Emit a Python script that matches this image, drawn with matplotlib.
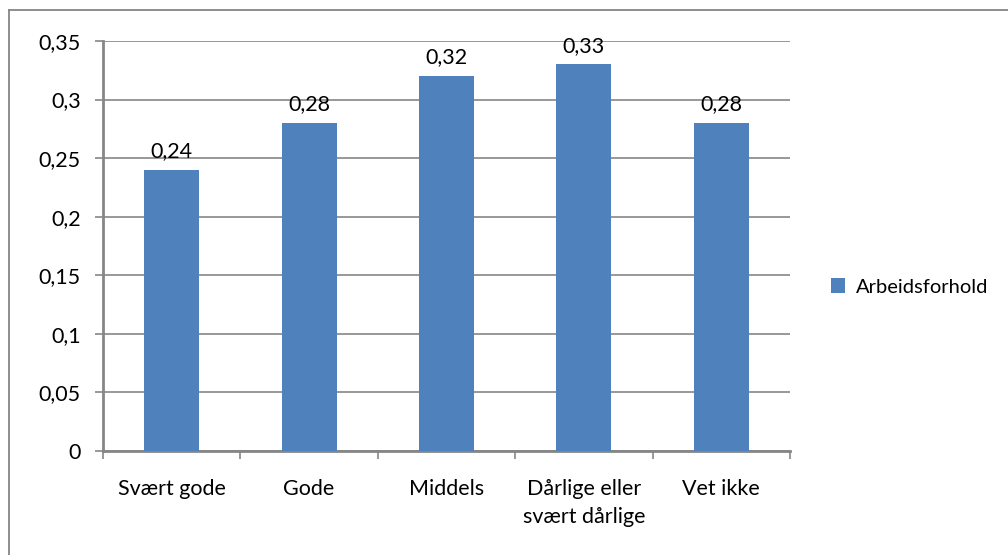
import matplotlib.pyplot as plt
from matplotlib.lines import Line2D

categories = ["Svært gode", "Gode", "Middels", "Dårlige eller\nsvært dårlige", "Vet ikke"]
values = [0.24, 0.28, 0.32, 0.33, 0.28]
labels = ["0,24", "0,28", "0,32", "0,33", "0,28"]
yticks = [0, 0.05, 0.1, 0.15, 0.2, 0.25, 0.3, 0.35]
ytick_labels = ["0", "0,05", "0,1", "0,15", "0,2", "0,25", "0,3", "0,35"]
series_name = "Arbeidsforhold"

plt.rcParams['font.family'] = ['Lato', 'DejaVu Sans']
blue = "#4F81BD"
grey = "#868686"
fs = 15.5

fig = plt.figure(figsize=(10.08, 5.55), dpi=100)
ax = fig.add_axes([103 / 1008, 1 - 451 / 555, 687 / 1008, 410 / 555])

# outer chart border: only left and top edges are inside the picture
bx, by = 8.5 / 1008, 1 - 9.5 / 555
fig.lines.append(Line2D([bx, bx], [0, by], transform=fig.transFigure, color=grey, linewidth=1.3))
fig.lines.append(Line2D([bx, 1], [by, by], transform=fig.transFigure, color=grey, linewidth=1.3))

x = range(len(categories))
ax.bar(x, values, width=0.4, color=blue, zorder=3, label=series_name)
for xi, v, lab in zip(x, values, labels):
    ax.text(xi, v + 0.0075, lab, ha="center", va="bottom", fontsize=fs)

ax.set_xlim(-0.5, len(categories) - 0.5)
ax.set_ylim(0, 0.35)
ax.set_yticks(yticks)
ax.set_yticklabels(ytick_labels, fontsize=fs)
ax.set_xticks([i - 0.5 for i in range(len(categories) + 1)], minor=False)
ax.set_xticklabels([])
ax.set_xticks(list(x), minor=True)
ax.set_xticklabels(categories, minor=True, fontsize=fs, linespacing=1.5, va="top")
ax.tick_params(axis="x", which="minor", length=0, pad=20)
ax.tick_params(axis="x", which="major", length=6, color=grey, width=1.2, direction="out")
ax.tick_params(axis="y", length=6, color=grey, width=1.2, pad=10)
ax.yaxis.grid(True, color=grey, linewidth=1.2, zorder=0)

for side in ["top", "right"]:
    ax.spines[side].set_visible(False)
for side in ["left", "bottom"]:
    ax.spines[side].set_color(grey)
    ax.spines[side].set_linewidth(2)

fig.legend(handles=ax.get_legend_handles_labels()[0], labels=[series_name],
           loc="center left", bbox_to_anchor=(831 / 1008, 1 - 287 / 555),
           frameon=False, fontsize=14.5, handlelength=0.7, handleheight=0.7,
           handletextpad=0.55, borderpad=0, borderaxespad=0)

fig.savefig("out.png", dpi=100)
